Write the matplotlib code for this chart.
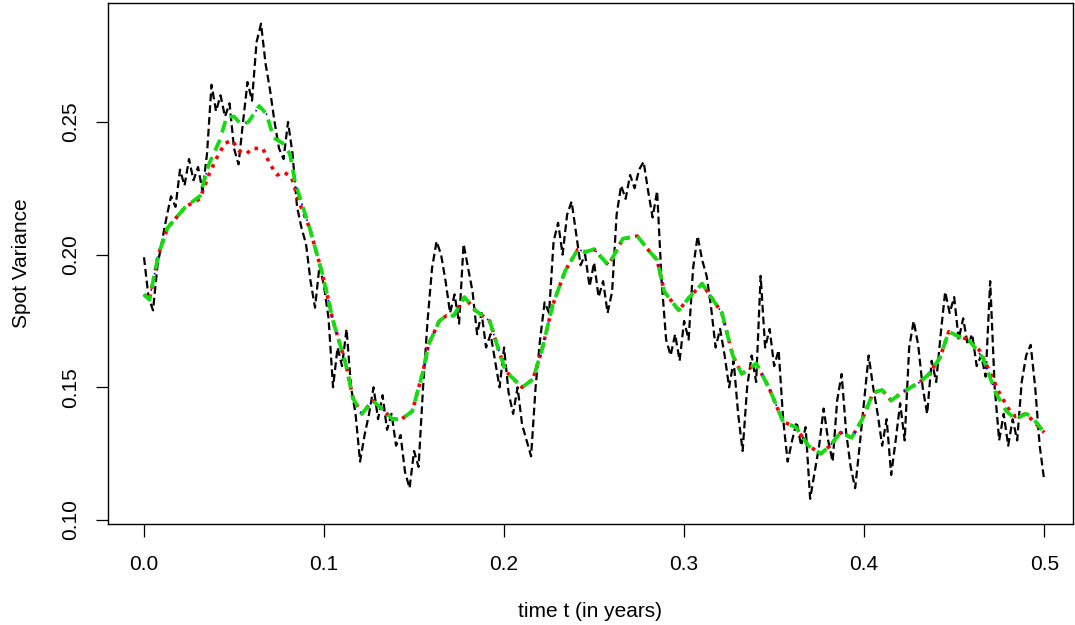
import numpy as np
import matplotlib
matplotlib.use("Agg")
import matplotlib.pyplot as plt

plt.rcParams["font.family"] = ["Liberation Sans", "DejaVu Sans"]

# simulated spot variance path, every 0.0025 years
path_step = 0.0025
path_vals = [
    0.199, 0.184, 0.179, 0.196, 0.205, 0.214, 0.222, 0.218, 0.232, 0.226,
    0.236, 0.228, 0.233, 0.224, 0.238, 0.264, 0.254, 0.260, 0.252, 0.257,
    0.240, 0.234, 0.250, 0.265, 0.258, 0.280, 0.287, 0.272, 0.262, 0.250,
    0.240, 0.236, 0.250, 0.238, 0.218, 0.210, 0.204, 0.190, 0.180, 0.196,
    0.188, 0.176, 0.150, 0.165, 0.158, 0.172, 0.150, 0.140, 0.122, 0.132,
    0.140, 0.150, 0.138, 0.147, 0.134, 0.140, 0.128, 0.132, 0.118, 0.112,
    0.126, 0.120, 0.150, 0.175, 0.195, 0.205, 0.200, 0.190, 0.178, 0.185,
    0.174, 0.204, 0.195, 0.186, 0.170, 0.178, 0.165, 0.170, 0.160, 0.150,
    0.165, 0.148, 0.140, 0.150, 0.136, 0.130, 0.124, 0.150, 0.168, 0.182,
    0.178, 0.205, 0.212, 0.200, 0.215, 0.220, 0.208, 0.196, 0.200, 0.188,
    0.197, 0.184, 0.190, 0.178, 0.186, 0.215, 0.226, 0.221, 0.230, 0.225,
    0.232, 0.235, 0.224, 0.214, 0.224, 0.190, 0.168, 0.162, 0.170, 0.160,
    0.175, 0.168, 0.195, 0.207, 0.198, 0.192, 0.180, 0.165, 0.172, 0.162,
    0.150, 0.160, 0.140, 0.126, 0.150, 0.162, 0.152, 0.192, 0.165, 0.172,
    0.158, 0.164, 0.138, 0.122, 0.130, 0.137, 0.128, 0.135, 0.108, 0.118,
    0.128, 0.142, 0.130, 0.122, 0.145, 0.155, 0.133, 0.120, 0.112, 0.128,
    0.145, 0.162, 0.150, 0.140, 0.128, 0.138, 0.117, 0.130, 0.144, 0.130,
    0.165, 0.175, 0.166, 0.150, 0.140, 0.160, 0.152, 0.170, 0.186, 0.178,
    0.184, 0.168, 0.176, 0.166, 0.170, 0.158, 0.162, 0.154, 0.190, 0.150,
    0.130, 0.140, 0.128, 0.138, 0.130, 0.152, 0.162, 0.166, 0.150, 0.128,
    0.115,
]
path_t = np.arange(len(path_vals)) * path_step

# smooth estimator (green, blue underneath follows it)
green_t = [
    0.000, 0.003, 0.008, 0.013, 0.023, 0.031, 0.036, 0.042, 0.046, 0.050,
    0.054, 0.058, 0.064, 0.068, 0.072, 0.077, 0.081, 0.084, 0.092, 0.099,
    0.105, 0.112, 0.116, 0.121, 0.127, 0.132, 0.138, 0.143, 0.149, 0.155,
    0.158, 0.164, 0.168, 0.172, 0.178, 0.184, 0.192, 0.197, 0.201, 0.210,
    0.216, 0.221, 0.227, 0.234, 0.241, 0.245, 0.250, 0.258, 0.266, 0.274,
    0.281, 0.285, 0.289, 0.297, 0.303, 0.310, 0.316, 0.321, 0.327, 0.332,
    0.340, 0.347, 0.355, 0.362, 0.369, 0.376, 0.381, 0.387, 0.393, 0.399,
    0.405, 0.410, 0.415, 0.421, 0.431, 0.436, 0.442, 0.447, 0.453, 0.458,
    0.466, 0.473, 0.479, 0.484, 0.490, 0.493, 0.500,
]
green_vals = [
    0.185, 0.183, 0.200, 0.210, 0.218, 0.222, 0.234, 0.243, 0.252, 0.252,
    0.249, 0.250, 0.256, 0.253, 0.244, 0.242, 0.238, 0.227, 0.210, 0.193,
    0.175, 0.159, 0.146, 0.140, 0.145, 0.142, 0.138, 0.138, 0.141, 0.156,
    0.166, 0.175, 0.177, 0.177, 0.184, 0.179, 0.175, 0.164, 0.156, 0.150,
    0.153, 0.164, 0.181, 0.194, 0.202, 0.201, 0.202, 0.196, 0.206, 0.207,
    0.201, 0.198, 0.186, 0.179, 0.184, 0.189, 0.183, 0.178, 0.162, 0.155,
    0.159, 0.150, 0.137, 0.135, 0.128, 0.125, 0.128, 0.133, 0.131, 0.138,
    0.148, 0.149, 0.145, 0.148, 0.152, 0.155, 0.161, 0.171, 0.169, 0.168,
    0.161, 0.148, 0.141, 0.138, 0.140, 0.139, 0.133,
]

# second estimator (red dotted), differs near the peak and at the end
red_t = [
    0.000, 0.003, 0.008, 0.013, 0.023, 0.031, 0.036, 0.040, 0.045, 0.049,
    0.053, 0.057, 0.060, 0.066, 0.070, 0.074, 0.078, 0.082, 0.086, 0.092,
    0.099, 0.105, 0.112, 0.116, 0.121, 0.127, 0.132, 0.138, 0.143, 0.149,
    0.155, 0.158, 0.164, 0.168, 0.172, 0.178, 0.184, 0.192, 0.197, 0.201,
    0.210, 0.216, 0.221, 0.227, 0.234, 0.241, 0.245, 0.250, 0.258, 0.266,
    0.274, 0.281, 0.285, 0.289, 0.297, 0.303, 0.310, 0.316, 0.321, 0.327,
    0.332, 0.340, 0.347, 0.355, 0.362, 0.369, 0.376, 0.381, 0.387, 0.393,
    0.399, 0.405, 0.410, 0.415, 0.421, 0.431, 0.436, 0.442, 0.447, 0.453,
    0.458, 0.464, 0.469, 0.475, 0.481, 0.484, 0.490, 0.500,
]
red_vals = [
    0.185, 0.183, 0.200, 0.210, 0.218, 0.221, 0.230, 0.236, 0.242, 0.243,
    0.239, 0.238, 0.240, 0.240, 0.234, 0.230, 0.231, 0.229, 0.220, 0.210,
    0.193, 0.175, 0.159, 0.146, 0.140, 0.145, 0.142, 0.138, 0.138, 0.141,
    0.156, 0.166, 0.175, 0.177, 0.177, 0.184, 0.179, 0.175, 0.164, 0.156,
    0.150, 0.153, 0.164, 0.181, 0.194, 0.202, 0.201, 0.202, 0.196, 0.206,
    0.207, 0.201, 0.198, 0.186, 0.179, 0.184, 0.189, 0.183, 0.178, 0.162,
    0.155, 0.159, 0.150, 0.137, 0.135, 0.128, 0.125, 0.128, 0.133, 0.131,
    0.138, 0.148, 0.149, 0.145, 0.148, 0.152, 0.155, 0.161, 0.171, 0.169,
    0.168, 0.164, 0.157, 0.148, 0.141, 0.139, 0.140, 0.133,
]

x_ticks = [0.0, 0.1, 0.2, 0.3, 0.4, 0.5]
y_ticks = [0.10, 0.15, 0.20, 0.25]

fig = plt.figure(figsize=(10.75, 6.25), dpi=100)
ax = fig.add_axes([108 / 1075, 1 - 524 / 625, (1073 - 108) / 1075, (524 - 3) / 625])

ax.plot(path_t, path_vals, color="black", lw=1.6, linestyle=(0, (3.5, 1.8)))
ax.plot(red_t, red_vals, color="red", lw=2.6, linestyle=(0, (1, 1.6)))
ax.plot(green_t, green_vals, color="blue", lw=1.2, linestyle=(0, (1, 9)))
ax.plot(green_t, green_vals, color="#11dd11", lw=2.7, linestyle=(0, (3.2, 2.0)))

ax.set_xlim(-0.02, 0.516)
ax.set_ylim(0.0985, 0.2948)
ax.set_xticks(x_ticks)
ax.set_xticklabels(["0.0", "0.1", "0.2", "0.3", "0.4", "0.5"])
ax.set_yticks(y_ticks)
ax.set_yticklabels(["0.10", "0.15", "0.20", "0.25"], rotation=90, va="center")

ax.tick_params(axis="x", length=9.5, width=0.9, pad=13, labelsize=15)
ax.tick_params(axis="y", length=9, width=0.9, pad=11, labelsize=15)
for s in ax.spines.values():
    s.set_linewidth(1.0)

ax.set_xlabel("time t (in years)", fontsize=15, labelpad=20)
ax.set_ylabel("Spot Variance", fontsize=15, labelpad=22)

fig.savefig("out.png", dpi=100)
